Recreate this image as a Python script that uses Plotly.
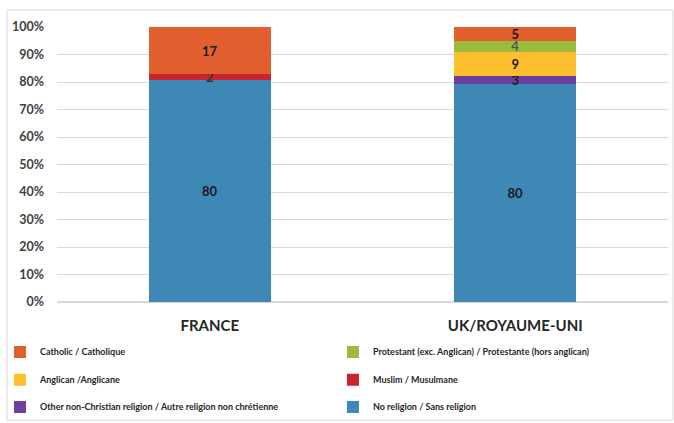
import plotly.graph_objects as go

# Datos
paises = ["FRANCE", "UK/ROYAUME-UNI"]
religiones = [
    "No religion / Sans religion",
    "Other non-Christian religion / Autre religion non chrétienne",
    "Muslim / Musulmane",
    "Anglican /Anglicane",
    "Protestant (exc. Anglican) / Protestante (hors anglican)",
    "Catholic / Catholique",
]
sin_religion = [80, 80]
otra = [0, 3]
musulmana = [2, 0]
anglicana = [0, 9]
protestante = [0, 4]
catolica = [17, 5]

valores = [sin_religion, otra, musulmana, anglicana, protestante, catolica]
colores = ["#3E88B5", "#6B3FA0", "#C8252F", "#FDBF2D", "#9BBB3B", "#E25F30"]
color_texto = ["#1a1a1a", "#1a1a1a", "#333333", "#1a1a1a", "#555555", "#1a1a1a"]

# una leyenda por serie, en 3 filas de 2 columnas (columna, fila)
posiciones = [(1, 2), (0, 2), (1, 1), (0, 1), (1, 0), (0, 0)]
col_x = [0.0, 0.494]
fila_y = [0.168, 0.102, 0.038]

fig = go.Figure()
leyendas = {}
for i, (nombre, vals, col, ct, pos) in enumerate(zip(religiones, valores, colores, color_texto, posiciones)):
    lg = f"legend{i + 2}"
    fig.add_trace(go.Bar(
        x=paises,
        y=vals,
        name=nombre,
        marker=dict(color=col, line=dict(width=0)),
        text=[str(v) if v else "" for v in vals],
        textposition="inside",
        insidetextanchor="middle",
        textangle=0,
        textfont=dict(size=13, color=ct, family="Lato", weight="bold"),
        legend=lg,
        showlegend=True,
        hoverinfo="skip",
    ))
    leyendas[lg] = dict(
        orientation="h",
        xref="container",
        yref="container",
        x=col_x[pos[0]],
        y=fila_y[pos[1]],
        xanchor="left",
        yanchor="middle",
        itemwidth=30,
        font=dict(size=9, color="#262626", family="Lato", weight="bold"),
        bgcolor="rgba(0,0,0,0)",
    )

fig.update_layout(
    width=674,
    height=423,
    showlegend=True,
    barmode="stack",
    barnorm="percent",
    bargap=0.6,
    plot_bgcolor="white",
    paper_bgcolor="white",
    margin=dict(l=57, r=6, t=27, b=121, autoexpand=False),
    font=dict(family="Lato", color="#404040"),
    uniformtext=dict(minsize=13, mode="show"),
    xaxis=dict(
        showgrid=False,
        showline=False,
        tickfont=dict(size=15, color="#262626", family="Lato", weight="bold"),
        ticklabelstandoff=13,
    ),
    yaxis=dict(
        range=[0, 100],
        dtick=10,
        ticksuffix="%",
        showgrid=True,
        gridcolor="#d9d9d9",
        gridwidth=1,
        zeroline=True,
        zerolinecolor="#d9d9d9",
        tickfont=dict(size=12.5, color="#404040", family="Lato", weight="bold"),
        ticklabelstandoff=12,
    ),
    shapes=[dict(
        type="rect", xref="paper", yref="paper",
        x0=-0.082, x1=1.008, y0=-0.43, y1=1.062,
        line=dict(color="#d9d9d9", width=1),
        layer="below",
    )],
    **leyendas,
)

# quitar el margen por defecto de la página y la barra de herramientas
fig.write_html(
    "out.html",
    config={"displayModeBar": False},
    post_script="document.body.style.margin='0';",
)
